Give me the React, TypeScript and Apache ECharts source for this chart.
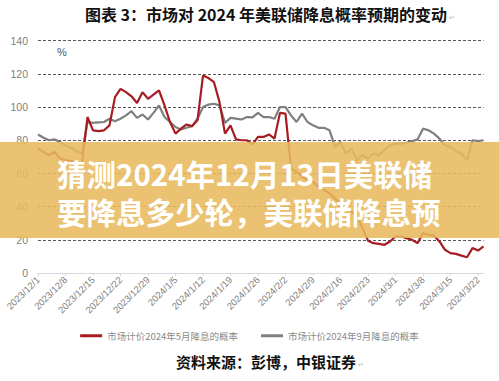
import React, { useEffect, useRef } from "react";
import * as echarts from "echarts";

const seriesNames = ["市场计价2024年5月降息的概率", "市场计价2024年9月降息的概率"];

const mayProb = [
  75, 73, 71, 73, 69, 68, 67.5, 66.5, 66, 94,
  86, 85.5, 86, 89, 106, 111, 109, 106.5, 102.5, 109,
  105, 107.5, 110, 101, 91, 84, 87, 89.5, 88.5, 92,
  119, 117.5, 115, 103, 84, 89, 80.5, 80, 80, 77.5,
  82, 82, 83.5, 81, 96.5, 96, 63, 61, 58, 56,
  55, 52, 50, 48, 45, 42, 40, 37, 34, 27,
  19.5, 18, 17.5, 17, 19, 22, 22, 21, 20, 18,
  24, 23, 22.5, 19, 14, 12, 11.5, 10.5, 9.5, 15,
  13.5, 16,
];

const sepProb = [
  83.5, 81.5, 80, 80.5, 79, 77, 75.5, 73.5, 72, 91,
  90.5, 90.8, 91, 93, 91.5, 93, 95, 97.5, 93.5, 95.5,
  92.5, 96.5, 101, 94, 91, 88, 86.5, 87.5, 88.5, 93,
  100, 101.5, 102, 101, 90.5, 93.5, 93, 92.5, 94, 93.8,
  96.5, 94, 94, 93, 100, 100, 95, 91, 96, 91,
  89, 87.5, 87.5, 86, 76, 79, 72, 75, 68, 71,
  69, 72, 71, 74, 77, 78, 78, 78.5, 79.5, 80.5,
  87, 86, 84, 81, 77, 76, 73.5, 72, 68, 80,
  79.5, 80,
];

const yTicks = { min: 0, max: 140, interval: 20 };

const titleText = "图表 3：市场对 2024 年美联储降息概率预期的变动";
const sourceText = "资料来源：彭博，中银证券";
const bannerLines = ["猜测2024年12月13日美联储", "要降息多少轮，美联储降息预"];

function buildDates(): string[] {
  const out: string[] = [];
  const d = new Date(2023, 11, 1);
  const end = new Date(2024, 2, 25);
  while (d <= end) {
    const w = d.getDay();
    if (w !== 0 && w !== 6) out.push(`${d.getFullYear()}/${d.getMonth() + 1}/${d.getDate()}`);
    d.setDate(d.getDate() + 1);
  }
  return out;
}
const dates = buildDates();

const CJK = '"Noto Sans CJK SC", "Noto Sans", sans-serif';

export default function App() {
  const ref = useRef<HTMLDivElement>(null);
  useEffect(() => {
    document.body.style.margin = "0";
    if (!ref.current) return;
    const chart = echarts.init(ref.current, null, { renderer: "svg" });
    const bannerStyle = {
      fontSize: 29.5,
      fontWeight: "bold",
      fill: "#ffffff",
      fontFamily: CJK,
      textVerticalAlign: "middle",
    };
    chart.setOption({
      animation: false,
      backgroundColor: "#ffffff",
      textStyle: { fontFamily: CJK },
      grid: { left: 38, right: 15.5, top: 40.7, bottom: 108 },
      legend: {
        left: "center",
        top: 326,
        icon: "rect",
        itemWidth: 22,
        itemHeight: 3,
        itemGap: 23,
        textStyle: { fontSize: 9.5, color: "#8a8a8a", fontFamily: CJK },
        data: seriesNames,
      },
      xAxis: {
        type: "category",
        data: dates,
        boundaryGap: false,
        axisLine: { lineStyle: { color: "#d9d9d9", width: 1 } },
        axisTick: { interval: 4, length: 3, lineStyle: { color: "#d9d9d9" } },
        axisLabel: {
          interval: 4,
          rotate: 45,
          fontSize: 9.5,
          color: "#7f7f7f",
          margin: 5,
          fontFamily: '"Liberation Sans", sans-serif',
        },
      },
      yAxis: {
        type: "value",
        min: yTicks.min,
        max: yTicks.max,
        interval: yTicks.interval,
        axisLine: { show: false },
        axisTick: { show: false },
        axisLabel: { fontSize: 10.5, color: "#7f7f7f", margin: 10, fontFamily: '"Liberation Sans", sans-serif' },
        splitLine: {
          show: true,
          showMinLine: false,
          lineStyle: { color: "#555555", width: 1, type: [3, 2] },
        },
      },
      series: [
        {
          name: seriesNames[0],
          type: "line",
          data: mayProb,
          symbol: "none",
          z: 3,
          lineStyle: { color: "#A61C22", width: 2.2 },
          itemStyle: { color: "#A61C22" },
        },
        {
          name: seriesNames[1],
          type: "line",
          data: sepProb,
          symbol: "none",
          z: 2,
          lineStyle: { color: "#7f7f7f", width: 2.2 },
          itemStyle: { color: "#7f7f7f" },
        },
      ],
      graphic: [
        {
          type: "text",
          x: 266,
          y: 14,
          style: {
            text: titleText,
            fontSize: 16,
            fontWeight: "bold",
            fill: "#111111",
            fontFamily: CJK,
            textAlign: "center",
            textVerticalAlign: "middle",
          },
        },
        {
          type: "text",
          x: 449,
          y: 17,
          style: { text: "↵", fontSize: 7, fill: "#bbbbbb", textVerticalAlign: "middle" },
        },
        {
          type: "text",
          x: 57,
          y: 52,
          style: { text: "%", fontSize: 11, fill: "#555555", textVerticalAlign: "middle", fontFamily: '"Liberation Sans", sans-serif' },
        },
        {
          type: "text",
          x: 266,
          y: 361,
          style: {
            text: sourceText,
            fontSize: 15,
            fontWeight: "bold",
            fill: "#111111",
            fontFamily: CJK,
            textAlign: "center",
            textVerticalAlign: "middle",
          },
        },
        {
          type: "text",
          x: 358,
          y: 364,
          style: { text: "↵", fontSize: 7, fill: "#bbbbbb", textVerticalAlign: "middle" },
        },
        {
          type: "rect",
          z: 100,
          shape: { x: 0, y: 142, width: 499, height: 96 },
          style: { fill: "rgba(231,186,95,0.88)" },
        },
        {
          type: "text",
          z: 101,
          x: 57,
          y: 173,
          style: { ...bannerStyle, text: bannerLines[0] },
        },
        {
          type: "text",
          z: 101,
          x: 57,
          y: 211,
          style: { ...bannerStyle, text: bannerLines[1] },
        },
      ],
    });
    return () => chart.dispose();
  }, []);
  return <div ref={ref} style={{ width: 499, height: 381, position: "absolute", left: 0, top: 0 }} />;
}
